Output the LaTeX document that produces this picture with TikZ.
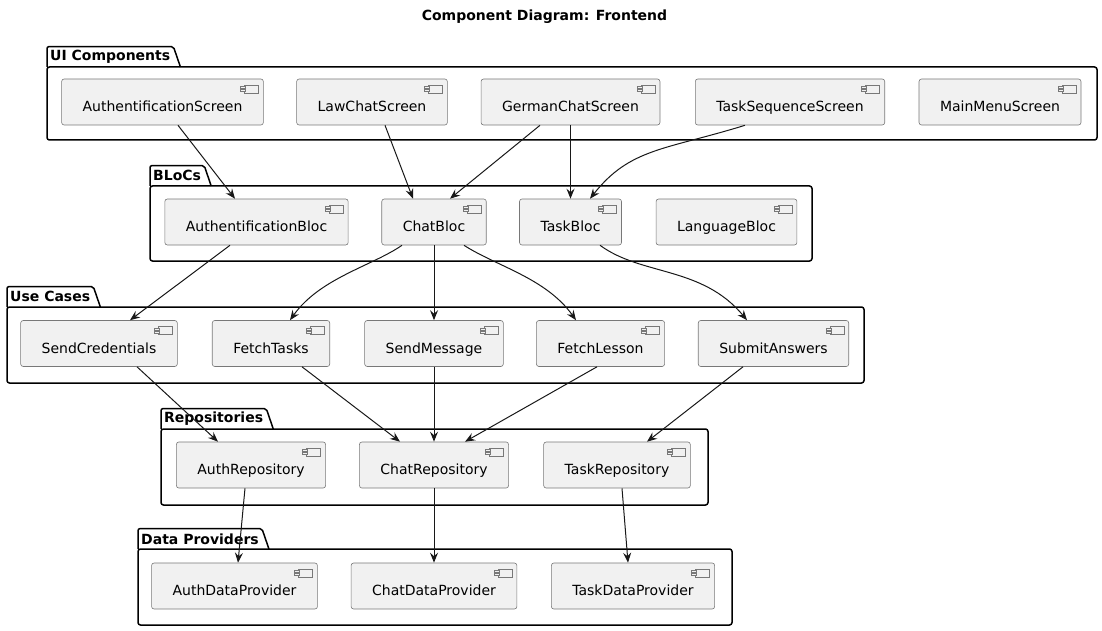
\documentclass[tikz,border=0pt]{standalone}
\usepackage{fontspec}
\setmainfont{DejaVu Sans}
\usetikzlibrary{arrows.meta,positioning}
\definecolor{umlfill}{RGB}{241,241,241}
\definecolor{umlline}{RGB}{24,24,24}
\definecolor{umlgrey}{RGB}{120,120,120}

\begin{document}
\begin{tikzpicture}[x=1pt, y=-1pt,
  comp/.style={draw=umlgrey, line width=0.6pt, fill=umlfill, rounded corners=2.5pt,
    minimum height=46pt, inner xsep=21pt, text height=22.4pt, text depth=3pt,
    font=\fontsize{14pt}{17pt}\selectfont, text=black,
    path picture={
      \draw[umlgrey, line width=0.5pt, fill=umlfill, sharp corners]
        ([shift={(-19pt,-6pt)}]path picture bounding box.north east) rectangle
        ([shift={(-5pt,-14pt)}]path picture bounding box.north east);
      \draw[umlgrey, line width=0.5pt, fill=umlfill, sharp corners]
        ([shift={(-23pt,-7.5pt)}]path picture bounding box.north east) rectangle
        ([shift={(-18pt,-9.5pt)}]path picture bounding box.north east);
      \draw[umlgrey, line width=0.5pt, fill=umlfill, sharp corners]
        ([shift={(-23pt,-10.5pt)}]path picture bounding box.north east) rectangle
        ([shift={(-18pt,-12.5pt)}]path picture bounding box.north east);
    }},
  pkg/.style={draw=black, line width=1.5pt},
  tab/.style={anchor=south west, inner xsep=3pt, inner ysep=0pt, minimum height=20pt,
    font=\fontsize{14pt}{17pt}\selectfont\bfseries},
  conn/.style={draw=umlline, line width=1pt, -{Stealth[length=10pt, width=8pt, inset=3.5pt]}}]
\useasboundingbox (0,0) rectangle (1102,631);

% title
\node[font=\fontsize{14pt}{17pt}\selectfont\bfseries] (title) at (544.5,17) {Component Diagram: Frontend};

% packages
\node[tab] (uitab) at (47,67) {UI Components};
\draw[pkg, rounded corners=2pt] (47,67) |- (uitab.north east) -- ([xshift=7pt]uitab.south east);
\draw[pkg, rounded corners=2.5pt] (47,67) rectangle (1097,140);

\node[tab] (bltab) at (150,186) {BLoCs};
\draw[pkg, rounded corners=2pt] (150,186) |- (bltab.north east) -- ([xshift=7pt]bltab.south east);
\draw[pkg, rounded corners=2.5pt] (150,186) rectangle (812,261);

\node[tab] (uctab) at (7,307) {Use Cases};
\draw[pkg, rounded corners=2pt] (7,307) |- (uctab.north east) -- ([xshift=7pt]uctab.south east);
\draw[pkg, rounded corners=2.5pt] (7,307) rectangle (864,383);

\node[tab] (retab) at (161,429) {Repositories};
\draw[pkg, rounded corners=2pt] (161,429) |- (retab.north east) -- ([xshift=7pt]retab.south east);
\draw[pkg, rounded corners=2.5pt] (161,429) rectangle (708,505);

\node[tab] (dptab) at (138,549) {Data Providers};
\draw[pkg, rounded corners=2pt] (138,549) |- (dptab.north east) -- ([xshift=7pt]dptab.south east);
\draw[pkg, rounded corners=2.5pt] (138,549) rectangle (732,625);

% UI components
\node[comp] (as)  at (162.5,102) {AuthentificationScreen};
\node[comp] (lcs) at (372,102)   {LawChatScreen};
\node[comp] (gcs) at (570.5,102) {GermanChatScreen};
\node[comp] (tss) at (790,102)   {TaskSequenceScreen};
\node[comp] (mms) at (1000,102)  {MainMenuScreen};

% BLoCs
\node[comp] (ab) at (256.5,222) {AuthentificationBloc};
\node[comp] (cb) at (434,222)   {ChatBloc};
\node[comp] (tb) at (570.5,222) {TaskBloc};
\node[comp] (lb) at (726.5,222) {LanguageBloc};

% use cases
\node[comp] (sc) at (99,343.5)    {SendCredentials};
\node[comp] (ft) at (271,343.5)   {FetchTasks};
\node[comp] (sm) at (434,343.5)   {SendMessage};
\node[comp] (fl) at (600.5,343.5) {FetchLesson};
\node[comp] (sa) at (773.5,343.5) {SubmitAnswers};

% repositories
\node[comp] (ar) at (251,465) {AuthRepository};
\node[comp] (cr) at (434,465) {ChatRepository};
\node[comp] (tr) at (617,465) {TaskRepository};

% data providers
\node[comp] (adp) at (234.5,586) {AuthDataProvider};
\node[comp] (cdp) at (434,586)   {ChatDataProvider};
\node[comp] (tdp) at (633,586)   {TaskDataProvider};

% UI -> BLoCs
\draw[conn] ([xshift=15.5pt]as.south) -- ([xshift=-21.5pt]ab.north);
\draw[conn] ([xshift=13pt]lcs.south) -- ([xshift=-21pt]cb.north);
\draw[conn] ([xshift=-30.5pt]gcs.south) -- ([xshift=16pt]cb.north);
\draw[conn] (gcs.south) -- (tb.north);
\draw[conn] ([xshift=-45pt]tss.south) .. controls (665,150) and (630,148) .. ([xshift=19.5pt]tb.north);

% BLoCs -> use cases
\draw[conn] ([xshift=-26.5pt]ab.south) -- ([xshift=31pt]sc.north);
\draw[conn] ([xshift=-32pt]cb.south) .. controls (372,266) and (320,278) .. ([xshift=19pt]ft.north);
\draw[conn] (cb.south) -- (sm.north);
\draw[conn] ([xshift=30pt]cb.south) .. controls (496,266) and (546,278) .. ([xshift=-24.5pt]fl.north);
\draw[conn] ([xshift=29.5pt]tb.south) .. controls (642,276) and (702,266) .. ([xshift=-26.5pt]sa.north);

% use cases -> repositories
\draw[conn] ([xshift=38pt]sc.south) -- ([xshift=-33pt]ar.north);
\draw[conn] ([xshift=31pt]ft.south) -- ([xshift=-34pt]cr.north);
\draw[conn] (sm.south) -- (cr.north);
\draw[conn] ([xshift=-3.5pt]fl.south) -- ([xshift=31pt]cr.north);
\draw[conn] ([xshift=-30.5pt]sa.south) -- ([xshift=30pt]tr.north);

% repositories -> data providers
\draw[conn] ([xshift=-6pt]ar.south) -- ([xshift=3.5pt]adp.north);
\draw[conn] (cr.south) -- (cdp.north);
\draw[conn] ([xshift=5pt]tr.south) -- ([xshift=-5pt]tdp.north);
\end{tikzpicture}
\end{document}
